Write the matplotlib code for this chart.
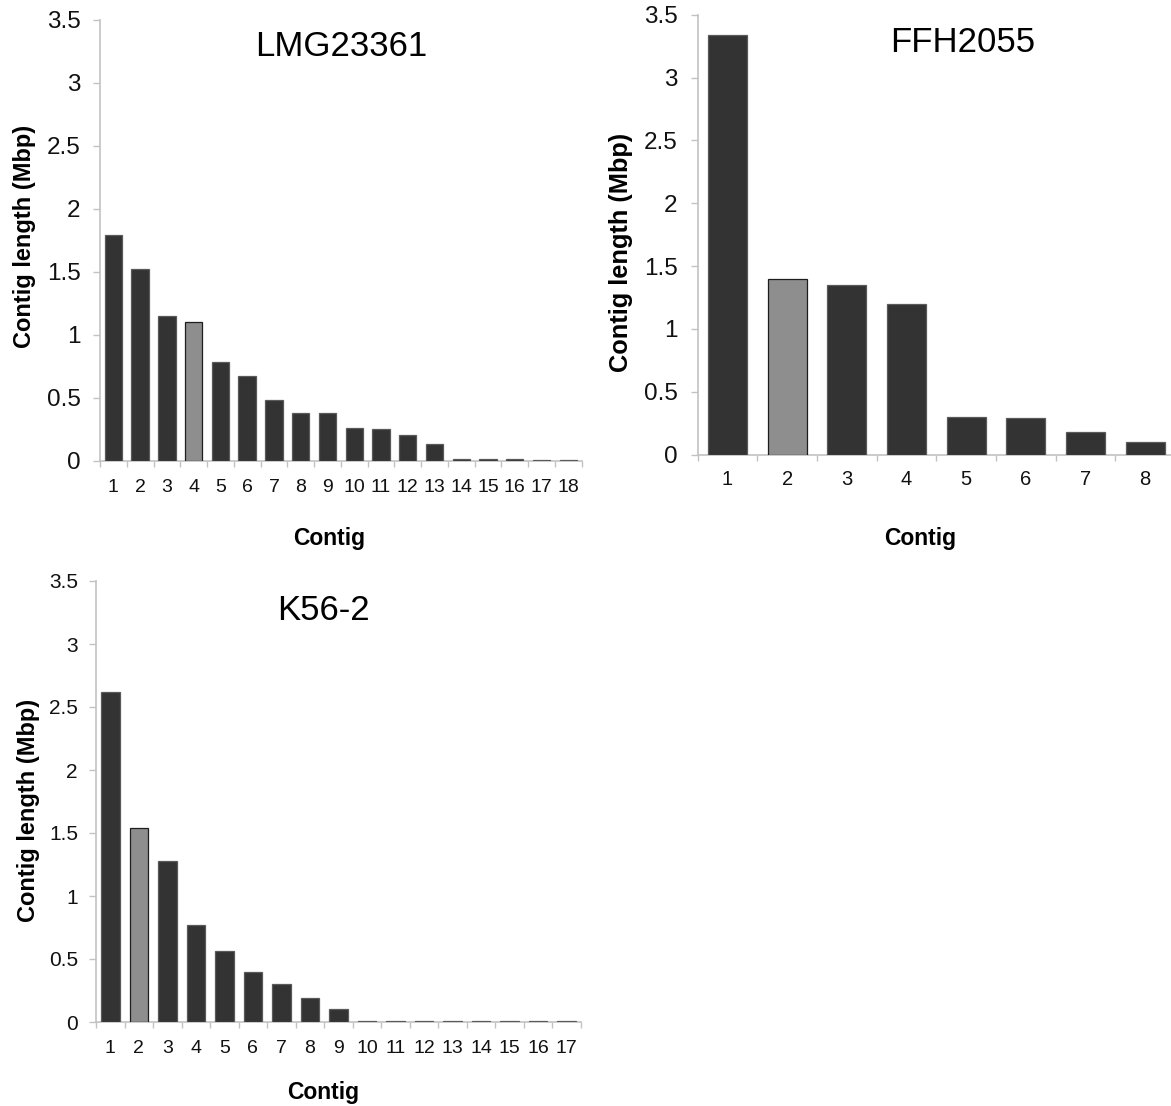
import matplotlib
matplotlib.use("Agg")
import matplotlib.pyplot as plt
import numpy as np

plt.rcParams['font.family'] = ['Liberation Sans', 'DejaVu Sans']

# ---- data (Mbp) ----
lmg_contigs = list(range(1, 19))
lmg_values = [1.79, 1.52, 1.15, 1.10, 0.78, 0.67, 0.48, 0.38, 0.38, 0.26,
              0.25, 0.20, 0.13, 0.013, 0.008, 0.008, 0.005, 0.005]
lmg_highlight = 4

ffh_contigs = list(range(1, 9))
ffh_values = [3.34, 1.40, 1.35, 1.20, 0.30, 0.29, 0.18, 0.10]
ffh_highlight = 2

k56_contigs = list(range(1, 18))
k56_values = [2.62, 1.54, 1.28, 0.77, 0.56, 0.40, 0.30, 0.19, 0.10,
              0.005, 0.005, 0.005, 0.005, 0.005, 0.005, 0.005, 0.005]
k56_highlight = 2

titles = ["LMG23361", "FFH2055", "K56-2"]
y_ticks = [0, 0.5, 1, 1.5, 2, 2.5, 3, 3.5]
y_ticklabels = ["0", "0.5", "1", "1.5", "2", "2.5", "3", "3.5"]
xlabel_text = "Contig"
ylabel_text = "Contig length (Mbp)"

W, H = 1171, 1106
fig = plt.figure(figsize=(W / 100, H / 100), dpi=100)

DARK = "#333333"
LIGHT = "#8e8e8e"
SPINE = "#c2c2c2"


def px_axes(l, r, t, b):
    return [l / W, 1 - b / H, (r - l) / W, (b - t) / H]


def panel(rect, cats, vals, hl, title, title_xy, ylab_xy, ylab_fs, xlab_xy,
          ytick_fs, xtick_fs, ypad, xpad):
    ax = fig.add_axes(px_axes(*rect))
    n = len(cats)
    colors = [LIGHT if c == hl else DARK for c in cats]
    edges = ["#1e1e1e" if c == hl else "#5a5a5a" for c in cats]
    ax.bar(cats, vals, width=0.65, color=colors, edgecolor=edges, linewidth=0.9, zorder=3)
    ax.set_xlim(0.5, n + 0.5)
    ax.set_ylim(0, 3.5)
    ax.set_yticks(y_ticks)
    ax.set_yticklabels(y_ticklabels)
    ax.set_xticks(cats)
    ax.set_xticklabels([str(c) for c in cats])
    ax.set_xticks(np.arange(0.5, n + 1, 1.0), minor=True)
    for s in ["top", "right"]:
        ax.spines[s].set_visible(False)
    for s in ["left", "bottom"]:
        ax.spines[s].set_color(SPINE)
        ax.spines[s].set_linewidth(1.2)
    ax.tick_params(axis="y", direction="out", length=5, width=1.0, color=SPINE,
                   labelsize=ytick_fs, pad=ypad, labelcolor="#111111")
    ax.tick_params(axis="x", which="major", length=0, labelsize=xtick_fs, pad=xpad,
                   labelcolor="#111111")
    ax.tick_params(axis="x", which="minor", direction="out", length=4, width=1.0, color=SPINE)
    fig.text(title_xy[0] / W, 1 - title_xy[1] / H, title, fontsize=25,
             ha="center", va="center", color="black")
    fig.text(ylab_xy[0] / W, 1 - ylab_xy[1] / H, ylabel_text, fontsize=ylab_fs,
             fontweight="bold", rotation=90, ha="center", va="center")
    fig.text(xlab_xy[0] / W, 1 - xlab_xy[1] / H, xlabel_text, fontsize=16.5,
             fontweight="bold", ha="center", va="center")
    return ax


panel((100, 581.7, 20, 460.5), lmg_contigs, lmg_values, lmg_highlight, titles[0],
      (341, 46), (25, 236), 17, (329, 538), 17.5, 14, 9.0, 13)
panel((697.6, 1175, 14.7, 454.5), ffh_contigs, ffh_values, ffh_highlight, titles[1],
      (962.5, 43), (621, 252), 18.3, (920, 539), 17.5, 14.5, 9.5, 11.5)
panel((96, 581, 581, 1022), k56_contigs, k56_values, k56_highlight, titles[2],
      (323, 611), (29, 810), 17, (323.5, 1092), 15, 14, 8.0, 13)

fig.savefig("out.png", dpi=100)
